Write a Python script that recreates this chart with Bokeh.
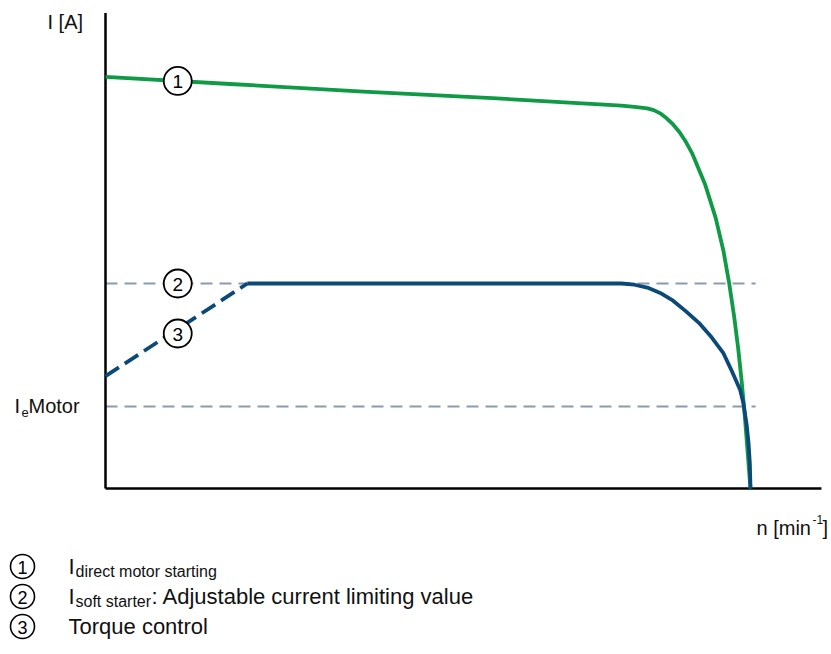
from bokeh.plotting import figure
from bokeh.models import Range1d, Label
from bokeh.embed import file_html
from bokeh.resources import INLINE

# ---- data (n in % of synchronous speed, I in multiples of Ie) ----
green_n = [0, 20, 40, 60, 80, 82, 84, 85, 86, 87, 88, 89, 90, 91, 93.0, 94.6, 95.8,
           96.7, 97.46, 98.1, 98.64, 99.1, 99.5, 100]
green_i = [5.02, 4.93, 4.84, 4.76, 4.67, 4.655, 4.635, 4.615, 4.575, 4.515, 4.44, 4.345,
           4.225, 4.08, 3.70, 3.30, 2.90, 2.50, 2.10, 1.70, 1.30, 0.90, 0.50, 0]

ramp_n = [0, 22.0]
ramp_i = [1.37, 2.5]

soft_n = [22.0, 78.0, 80, 82, 84, 86, 88, 90, 92, 94, 95.8, 97, 98.4, 98.9, 99.4, 99.7, 99.9, 100]
soft_i = [2.5, 2.5, 2.5, 2.485, 2.45, 2.385, 2.29, 2.16, 2.02, 1.84, 1.65, 1.45, 1.20, 1.04,
          0.78, 0.55, 0.3, 0]

i_limit = 2.5
i_e = 1.0
n_end = 100.8
x_axis_end = 111.0
y_axis_end = 5.8

marker_n = [11.2, 11.2, 11.2]
marker_i = [4.97, 2.5, 1.89]
marker_txt = ["1", "2", "3"]

legend_txt = ["direct motor starting", "soft starter", "Torque control"]

GREEN = "#0f9a45"
BLUE = "#0b4a78"
GRAY = "#8a9bab"
FONT = "Liberation Sans"

# x: px = 105 + 6.45*n ; y: px = 488 - 82*i
W, H = 828, 650
xs = 6.45
ys = 82.0
x0 = -105 / xs
x1 = x0 + W / xs
y1 = 488 / ys
y0 = y1 - H / ys

p = figure(width=W, height=H, output_backend="svg", toolbar_location=None,
           x_range=Range1d(x0, x1), y_range=Range1d(y0, y1),
           min_border=0, outline_line_color=None)
p.axis.visible = False
p.grid.visible = False
p.background_fill_color = "white"
p.border_fill_color = "white"

# dashed reference lines
p.segment(x0=[0, 0], y0=[i_limit, i_e], x1=[n_end, n_end], y1=[i_limit, i_e],
          line_color=GRAY, line_width=2, line_dash="12 7")

# axes
p.segment(x0=[0, 0], y0=[0, 0], x1=[0, x_axis_end], y1=[y_axis_end, 0],
          line_color="black", line_width=2.5)

# curves
p.line(green_n, green_i, line_color=GREEN, line_width=3.8, line_join="round")
p.line(soft_n, soft_i, line_color=BLUE, line_width=3.8, line_join="round")
p.line(ramp_n, ramp_i, line_color=BLUE, line_width=3.8, line_dash="16 7")

# circled numbers on chart
p.scatter(marker_n, marker_i, size=28, marker="circle", fill_color="white",
          line_color="black", line_width=1.8)
p.text(marker_n, marker_i, text=marker_txt, text_align="center", text_baseline="middle",
       text_font_size="19px", text_color="black", y_offset=1,
       text_font={"value": FONT})

def lab(x, y, t, size="20px", **kw):
    p.add_layout(Label(x=x, y=y, text=t, text_font=FONT, text_font_size=size,
                       text_color="#111111", **kw))

def px_x(px):
    return (px - 105) / xs

def px_y(py):
    return (488 - py) / ys

# axis labels
lab(px_x(47), px_y(21), "I [A]", text_baseline="middle")
lab(px_x(14), px_y(405), "I", text_baseline="middle")
lab(px_x(21), px_y(412), "e", size="13px", text_baseline="middle")
lab(px_x(28), px_y(405), "Motor", text_baseline="middle")
lab(px_x(756), px_y(527), "n [min", text_baseline="middle")
lab(px_x(812), px_y(519), "-1", size="12px", text_baseline="middle")
lab(px_x(822), px_y(527), "]", text_baseline="middle")

# legend
leg_y = [566, 596, 626]
leg_x_circle = px_x(22)
p.scatter([leg_x_circle] * 3, [px_y(v) for v in leg_y], size=24, marker="circle",
          fill_color="white", line_color="black", line_width=1.6)
p.text([leg_x_circle] * 3, [px_y(v) for v in leg_y], text=marker_txt,
       text_align="center", text_baseline="middle", text_font_size="18px",
       text_color="black", y_offset=1, text_font={"value": FONT})

lab(px_x(68), px_y(566), "I", size="22px", text_baseline="middle")
lab(px_x(75), px_y(571), legend_txt[0], size="16px", text_baseline="middle")
lab(px_x(68), px_y(596), "I", size="22px", text_baseline="middle")
lab(px_x(75), px_y(601), legend_txt[1], size="16px", text_baseline="middle")
lab(px_x(151), px_y(596), ": Adjustable current limiting value", size="22px",
    text_baseline="middle")
lab(px_x(68), px_y(626), legend_txt[2], size="22px", text_baseline="middle")

open("out.html", "w").write(file_html(p, INLINE))
